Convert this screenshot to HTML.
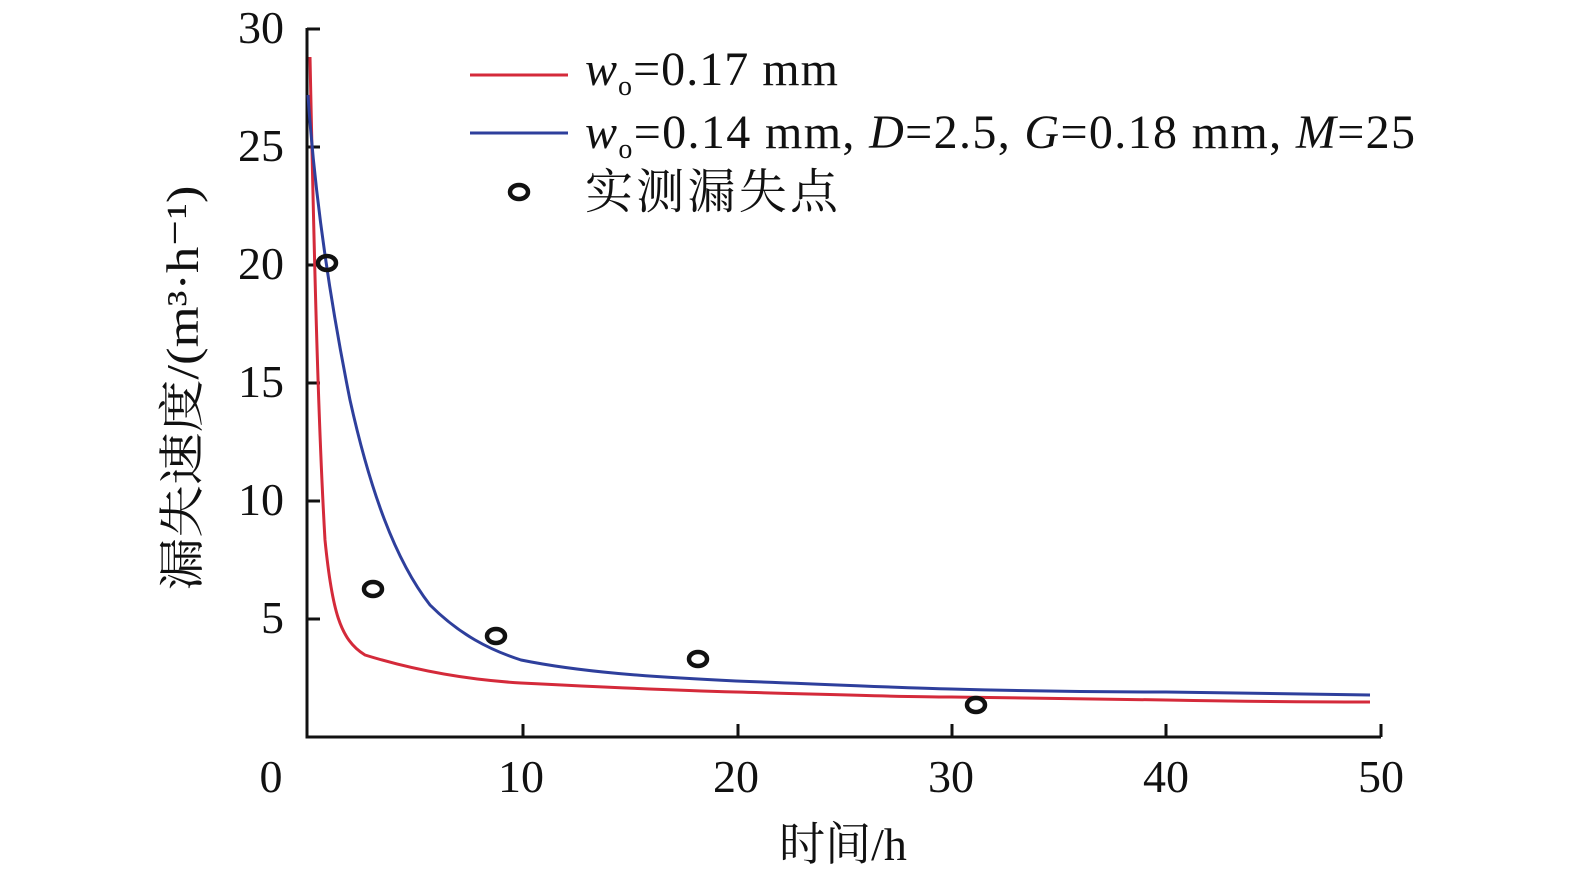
<!DOCTYPE html><html><head><style>body{margin:0;background:#fff}svg{display:block}text{font-family:"Liberation Serif","Noto Serif CJK SC",serif;fill:#111}</style></head><body>
<svg width="1575" height="881" viewBox="0 0 1575 881">
<g stroke="#111" stroke-width="3" fill="none">
<path d="M307 28V737H1381"/>
<path d="M307 619h13M307 501h13M307 383h13M307 265h13M307 147h13M307 29h13"/>
<path d="M523 737v-13M738 737v-13M952 737v-13M1166 737v-13M1381 737v-13"/>
</g>
<g font-size="46" text-anchor="end">
<text x="284" y="633">5</text><text x="284" y="515">10</text><text x="284" y="397">15</text><text x="284" y="279">20</text><text x="284" y="161">25</text><text x="284" y="43">30</text>
</g>
<g font-size="46" text-anchor="middle">
<text x="271" y="792">0</text><text x="521" y="792">10</text><text x="736" y="792">20</text><text x="951" y="792">30</text><text x="1166" y="792">40</text><text x="1381" y="792">50</text>
<text x="843" y="860">时间/h</text>
</g>
<text transform="translate(198,388) rotate(-90)" font-size="46" text-anchor="middle" textLength="405" lengthAdjust="spacingAndGlyphs">漏失速度/(m³·h⁻¹)</text>
<path d="M310 57C314 250 318 420 325 540C332 610 340 640 365 655C420 672 470 680 521 683C620 688 700 691 736 692C850 695 900 697 951 697C1060 699 1120 700 1166 700C1280 702 1330 702 1370 702" stroke="#d42a3a" stroke-width="3" fill="none"/>
<path d="M308 95C315 200 330 300 350 400C370 490 395 560 430 605C460 635 490 650 521 660C580 672 650 677 736 681C850 685 900 688 951 689C1060 692 1120 692 1166 692C1280 694 1330 695 1370 695" stroke="#2e3f9c" stroke-width="3" fill="none"/>
<g stroke="#111" stroke-width="4.5" fill="none">
<ellipse cx="327" cy="263" rx="9" ry="7"/><ellipse cx="373" cy="589" rx="9" ry="7"/><ellipse cx="496" cy="636" rx="9" ry="7"/><ellipse cx="698" cy="659" rx="9" ry="7"/><ellipse cx="976" cy="705" rx="9" ry="7"/><ellipse cx="519" cy="192" rx="9" ry="7"/>
</g>
<path d="M470 75H568" stroke="#d42a3a" stroke-width="3"/>
<path d="M470 133H568" stroke="#2e3f9c" stroke-width="3"/>
<g font-size="48">
<text x="585" y="85" textLength="253"><tspan font-style="italic">w</tspan><tspan font-size="28" dy="10">o</tspan><tspan dy="-10">=0.17 mm</tspan></text>
<text x="585" y="148" textLength="830"><tspan font-style="italic">w</tspan><tspan font-size="28" dy="10">o</tspan><tspan dy="-10">=0.14 mm, </tspan><tspan font-style="italic">D</tspan>=2.5, <tspan font-style="italic">G</tspan>=0.18 mm, <tspan font-style="italic">M</tspan>=25</text>
<text x="585" y="208" font-size="48" textLength="253">实测漏失点</text>
</g>
</svg></body></html>
